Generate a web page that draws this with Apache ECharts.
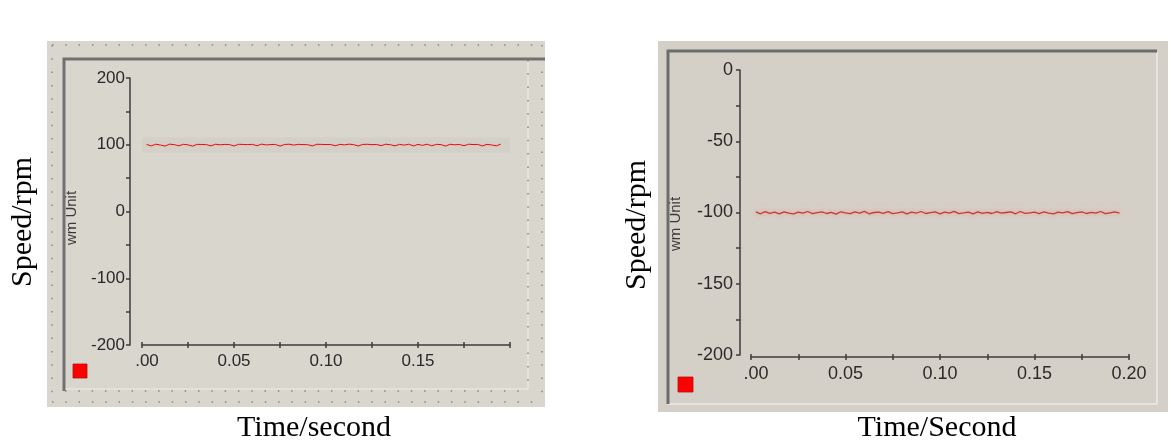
<!DOCTYPE html>
<html>
<head>
<meta charset="utf-8"/>
<title>Speed response</title>
<script type="text/javascript" src="https://cdn.jsdelivr.net/npm/echarts@6/dist/echarts.min.js"></script>
<style type="text/css">
	body{margin:0;padding:0;background:#fff;}
	#chart{width:1171px;height:441px;}
</style>
</head>
<body>
<div id="chart"></div>
<script type="text/javascript">
	// sample times (s), shared by both runs
	var time_sec = [
		0.0025,0.005,0.0075,0.01,0.0125,0.015,0.0175,0.02,0.0225,0.025,
		0.0275,0.03,0.0325,0.035,0.0375,0.04,0.0425,0.045,0.0475,0.05,
		0.0525,0.055,0.0575,0.06,0.0625,0.065,0.0675,0.07,0.0725,0.075,
		0.0775,0.08,0.0825,0.085,0.0875,0.09,0.0925,0.095,0.0975,0.1,
		0.1025,0.105,0.1075,0.11,0.1125,0.115,0.1175,0.12,0.1225,0.125,
		0.1275,0.13,0.1325,0.135,0.1375,0.14,0.1425,0.145,0.1475,0.15,
		0.1525,0.155,0.1575,0.16,0.1625,0.165,0.1675,0.17,0.1725,0.175,
		0.1775,0.18,0.1825,0.185,0.1875,0.19,0.1925,0.195
	];
	// forward run, speed in rpm
	var speed_fwd = [
		100.5,98.2,100.8,99.6,98.0,100.9,100.2,98.4,100.7,99.8,
		97.9,100.6,100.4,100.1,98.3,100.8,99.9,100.5,100.3,98.1,
		100.7,100.4,100.2,100.6,98.5,100.9,99.7,100.3,100.5,98.0,
		100.4,100.8,99.5,100.6,100.2,100.1,98.2,100.7,100.5,100.3,
		100.4,98.4,100.6,99.8,100.9,100.2,98.1,100.5,100.7,100.1,
		100.4,98.6,100.8,100.0,98.3,100.6,99.4,100.9,98.2,100.5,
		99.1,100.8,98.4,100.6,100.2,98.0,100.7,99.9,100.4,98.5,
		100.8,100.3,100.5,98.2,100.6,99.7,98.3,100.9
	];
	// reverse run, speed in rpm
	var speed_rev = [
		-99.6,-100.9,-99.4,-100.6,-99.8,-101.0,-99.5,-100.4,-100.9,-99.7,
		-100.5,-99.3,-100.8,-100.1,-99.6,-100.7,-99.9,-101.1,-99.5,-100.3,
		-100.8,-99.6,-100.4,-99.2,-100.9,-100.0,-99.7,-100.6,-99.4,-100.8,
		-100.2,-99.5,-101.0,-99.8,-100.5,-99.3,-100.7,-100.1,-99.6,-100.9,
		-99.8,-100.4,-99.2,-100.8,-100.3,-99.7,-101.0,-99.5,-100.6,-99.9,
		-100.7,-99.4,-100.5,-100.0,-99.6,-100.9,-99.3,-100.6,-100.2,-99.8,
		-100.8,-99.5,-100.4,-101.0,-99.7,-100.3,-99.4,-100.8,-100.1,-99.6,
		-100.7,-99.9,-100.5,-99.3,-100.8,-100.2,-99.6,-100.4
	];
	// axis ranges: [min, max, interval]
	var time_axis = [0, 0.2, 0.05];
	var fwd_axis = [-200, 200, 100];
	var rev_axis = [-200, 0, 50];
	var fwd_band = [88, 111];

	var axis_color = '#3c3c3c';
	var dot_color = '#8a8883';

	function pairs(t, v){
		var out = [];
		for(var i=0;i<t.length;i++){
			out.push([t[i], v[i]]);
		}
		return out;
	}

	// x 轴
	function timeAxis(grid, size, showLast, offset){
		return {
			gridIndex: grid,
			type: 'value',
			position: 'bottom',
			offset: offset,
			min: time_axis[0],
			max: time_axis[1],
			interval: time_axis[2],
			axisLine: {onZero: false, lineStyle: {color: axis_color, width: 1.5}},
			axisTick: {show: true, length: 3, lineStyle: {color: axis_color, width: 1.5}},
			minorTick: {show: true, splitNumber: 2, length: 3, lineStyle: {color: axis_color, width: 1.5}},
			splitLine: {show: false},
			axisLabel: {
				margin: 8,
				color: '#2a2a2a',
				fontFamily: 'Liberation Sans',
				fontSize: size,
				formatter: function(v){
					if(v === 0) return '{z|.00}';
					if(v > 0.19 && !showLast) return '';
					return v.toFixed(2);
				},
				rich: {z: {fontFamily: 'Liberation Sans', fontSize: size, color: '#2a2a2a', padding: [0,0,0,10]}}
			}
		};
	}
	// 上方的刻度
	function tickAxis(grid, offset){
		return {
			gridIndex: grid,
			type: 'value',
			position: 'bottom',
			offset: offset,
			min: time_axis[0],
			max: time_axis[1],
			interval: time_axis[2],
			axisLine: {show: false, onZero: false},
			axisTick: {show: true, inside: true, length: 3, lineStyle: {color: axis_color, width: 1.5}},
			minorTick: {show: true, splitNumber: 2, length: 3, lineStyle: {color: axis_color, width: 1.5}},
			splitLine: {show: false},
			axisLabel: {show: false}
		};
	}
	// y 轴
	function speedAxis(grid, range, size, margin, offset){
		return {
			gridIndex: grid,
			type: 'value',
			offset: offset,
			min: range[0],
			max: range[1],
			interval: range[2],
			axisLine: {show: true, onZero: false, lineStyle: {color: axis_color, width: 1.5}},
			axisTick: {show: true, length: 4, lineStyle: {color: axis_color, width: 1.5}},
			minorTick: {show: true, splitNumber: 2, length: 4, lineStyle: {color: axis_color, width: 1.5}},
			splitLine: {show: false},
			axisLabel: {margin: margin, color: '#2a2a2a', fontFamily: 'Liberation Sans', fontSize: size}
		};
	}

	function dots(x1, y1, x2, y2){
		return {type: 'line', z: -5, silent: true,
			shape: {x1: x1, y1: y1, x2: x2, y2: y2},
			style: {stroke: dot_color, lineWidth: 1.5, lineDash: [1.5, 11.8]}};
	}
	function label(txt, x, y, font, rot, color){
		return {type: 'text', z: 10, x: x, y: y, rotation: rot,
			style: {text: txt, font: font, fill: color, align: 'center', verticalAlign: 'middle'}};
	}

	var graphics = [
		// left panel
		{type: 'rect', z: -10, shape: {x: 47, y: 41, width: 498, height: 366}, style: {fill: '#d9d6ce'}},
		dots(52, 45, 542, 45), dots(52, 45, 52, 402), dots(52, 402, 542, 402), dots(542, 45, 542, 402),
		dots(65, 391, 528, 391), dots(528, 60, 528, 391),
		{type: 'line', z: -6, shape: {x1: 528, y1: 60, x2: 528, y2: 389}, style: {stroke: '#efede7', lineWidth: 1}},
		{type: 'line', z: -6, shape: {x1: 65, y1: 389, x2: 528, y2: 389}, style: {stroke: '#efede7', lineWidth: 1}},
		{type: 'polyline', z: -4, shape: {points: [[64, 391], [64, 59], [545, 59]]}, style: {stroke: '#707070', lineWidth: 3, fill: null}},
		{type: 'rect', z: -4, shape: {x: 73, y: 364, width: 14, height: 14}, style: {fill: '#ff0000', stroke: '#b31010', lineWidth: 0.8}},
		// right panel
		{type: 'rect', z: -10, shape: {x: 658, y: 41, width: 510, height: 371}, style: {fill: '#d4d0c8'}},
		{type: 'line', z: -6, shape: {x1: 1157, y1: 52, x2: 1157, y2: 404}, style: {stroke: '#ecebe6', lineWidth: 1.5}},
		{type: 'line', z: -6, shape: {x1: 668, y1: 404, x2: 1157, y2: 404}, style: {stroke: '#ecebe6', lineWidth: 1.5}},
		{type: 'polyline', z: -4, shape: {points: [[668, 404], [668, 51], [1157, 51]]}, style: {stroke: '#6c6c6c', lineWidth: 3, fill: null}},
		{type: 'rect', z: -4, shape: {x: 678, y: 377, width: 15, height: 15}, style: {fill: '#ff0000', stroke: '#b31010', lineWidth: 0.8}},
		// texts
		label('wm Unit', 72, 218, '15px "Liberation Sans"', Math.PI / 2, '#3a3a3a'),
		label('wm Unit', 676, 224, '15px "Liberation Sans"', Math.PI / 2, '#3a3a3a'),
		label('Speed/rpm', 23, 222, '30px "Liberation Serif"', Math.PI / 2, '#000'),
		label('Speed/rpm', 637, 225, '30px "Liberation Serif"', Math.PI / 2, '#000'),
		label('Time/second', 314, 428, '30px "Liberation Serif"', 0, '#000'),
		label('Time/Second', 937, 428, '30px "Liberation Serif"', 0, '#000')
	];

	var option = {
		animation: false,
		backgroundColor: '#ffffff',
		graphic: {elements: graphics},
		grid: [
			{left: 142, top: 78, width: 368, height: 267},
			{left: 751, top: 70, width: 378, height: 285}
		],
		xAxis: [
			timeAxis(0, 17, false, 0),
			tickAxis(0, 0),
			timeAxis(1, 18, true, 2),
			tickAxis(1, 2)
		],
		yAxis: [
			speedAxis(0, fwd_axis, 17, 5, 12),
			speedAxis(1, rev_axis, 18, 7, 11)
		],
		series: [
			{
				type: 'line',
				xAxisIndex: 0,
				yAxisIndex: 0,
				showSymbol: false,
				lineStyle: {color: '#ff0000', width: 1},
				markArea: {
					silent: true,
					itemStyle: {color: 'rgba(110,100,90,0.05)'},
					data: [[{xAxis: time_axis[0], yAxis: fwd_band[0]}, {xAxis: time_axis[1], yAxis: fwd_band[1]}]]
				},
				data: pairs(time_sec, speed_fwd)
			},
			{
				type: 'line',
				xAxisIndex: 2,
				yAxisIndex: 1,
				showSymbol: false,
				lineStyle: {color: '#c8392f', width: 1.3, shadowColor: 'rgba(245,140,130,1)', shadowBlur: 5},
				data: pairs(time_sec, speed_rev)
			}
		]
	};

	var chart = echarts.init(document.getElementById('chart'), null, {renderer: 'canvas'});
	chart.setOption(option);
</script>
</body>
</html>
